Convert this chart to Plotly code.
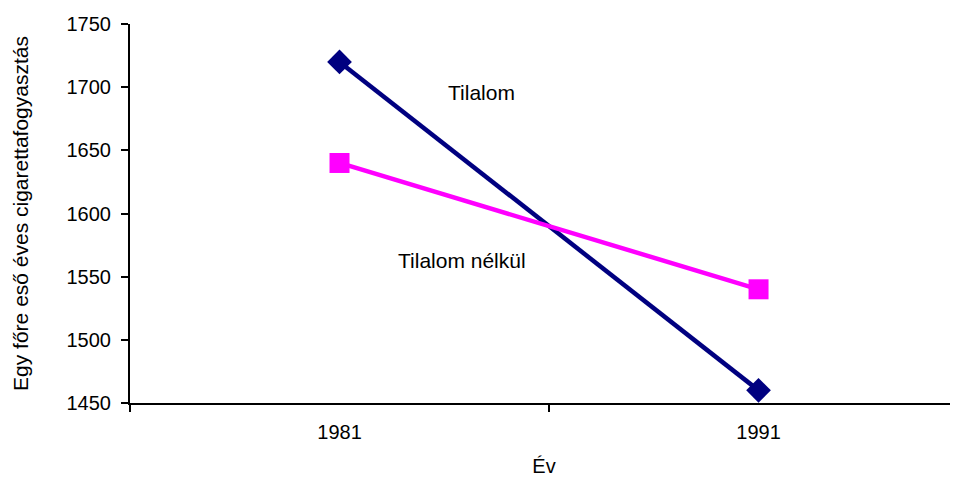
import plotly.graph_objects as go

years = ["1981", "1991"]
tilalom = [1720, 1460]
tilalom_nelkul = [1640, 1540]
y_ticks = [1450, 1500, 1550, 1600, 1650, 1700, 1750]

font = "Liberation Sans, Arial, sans-serif"

fig = go.Figure()
fig.add_trace(go.Scatter(
    x=years, y=tilalom, mode="lines+markers", name="Tilalom",
    line=dict(color="#000080", width=4.5),
    marker=dict(symbol="diamond", size=19, color="#000080"),
))
fig.add_trace(go.Scatter(
    x=years, y=tilalom_nelkul, mode="lines+markers", name="Tilalom nélkül",
    line=dict(color="#FF00FF", width=4.5),
    marker=dict(symbol="square", size=20, color="#FF00FF"),
))

fig.add_annotation(x=0.34, y=1696, text="Tilalom", showarrow=False,
                   font=dict(family=font, size=21, color="#000"))
fig.add_annotation(x=0.292, y=1562.5, text="Tilalom nélkül", showarrow=False,
                   font=dict(family=font, size=21, color="#000"))

fig.update_layout(
    width=958, height=469,
    margin=dict(l=122, r=8, t=16, b=74),
    paper_bgcolor="white", plot_bgcolor="white",
    showlegend=False,
    font=dict(family=font, size=20, color="#000"),
)
fig.update_xaxes(
    type="category", range=[-0.5, 1.476], automargin=False,
    tickson="boundaries", ticks="outside", ticklen=7, tickwidth=2, tickcolor="#000",
    showline=True, linecolor="#000", linewidth=2, showgrid=False, zeroline=False,
    ticklabelstandoff=10,
    title=dict(text="Év", font=dict(family=font, size=20), standoff=19),
)
fig.update_yaxes(
    range=[1450, 1750], tickvals=y_ticks, automargin=False,
    ticks="outside", ticklen=7, tickwidth=2, tickcolor="#000",
    showline=True, linecolor="#000", linewidth=2, showgrid=False, zeroline=False,
    ticklabelstandoff=6,
    title=dict(text="Egy főre eső éves cigarettafogyasztás", font=dict(family=font, size=21), standoff=32),
)

fig.write_html("out.html")
